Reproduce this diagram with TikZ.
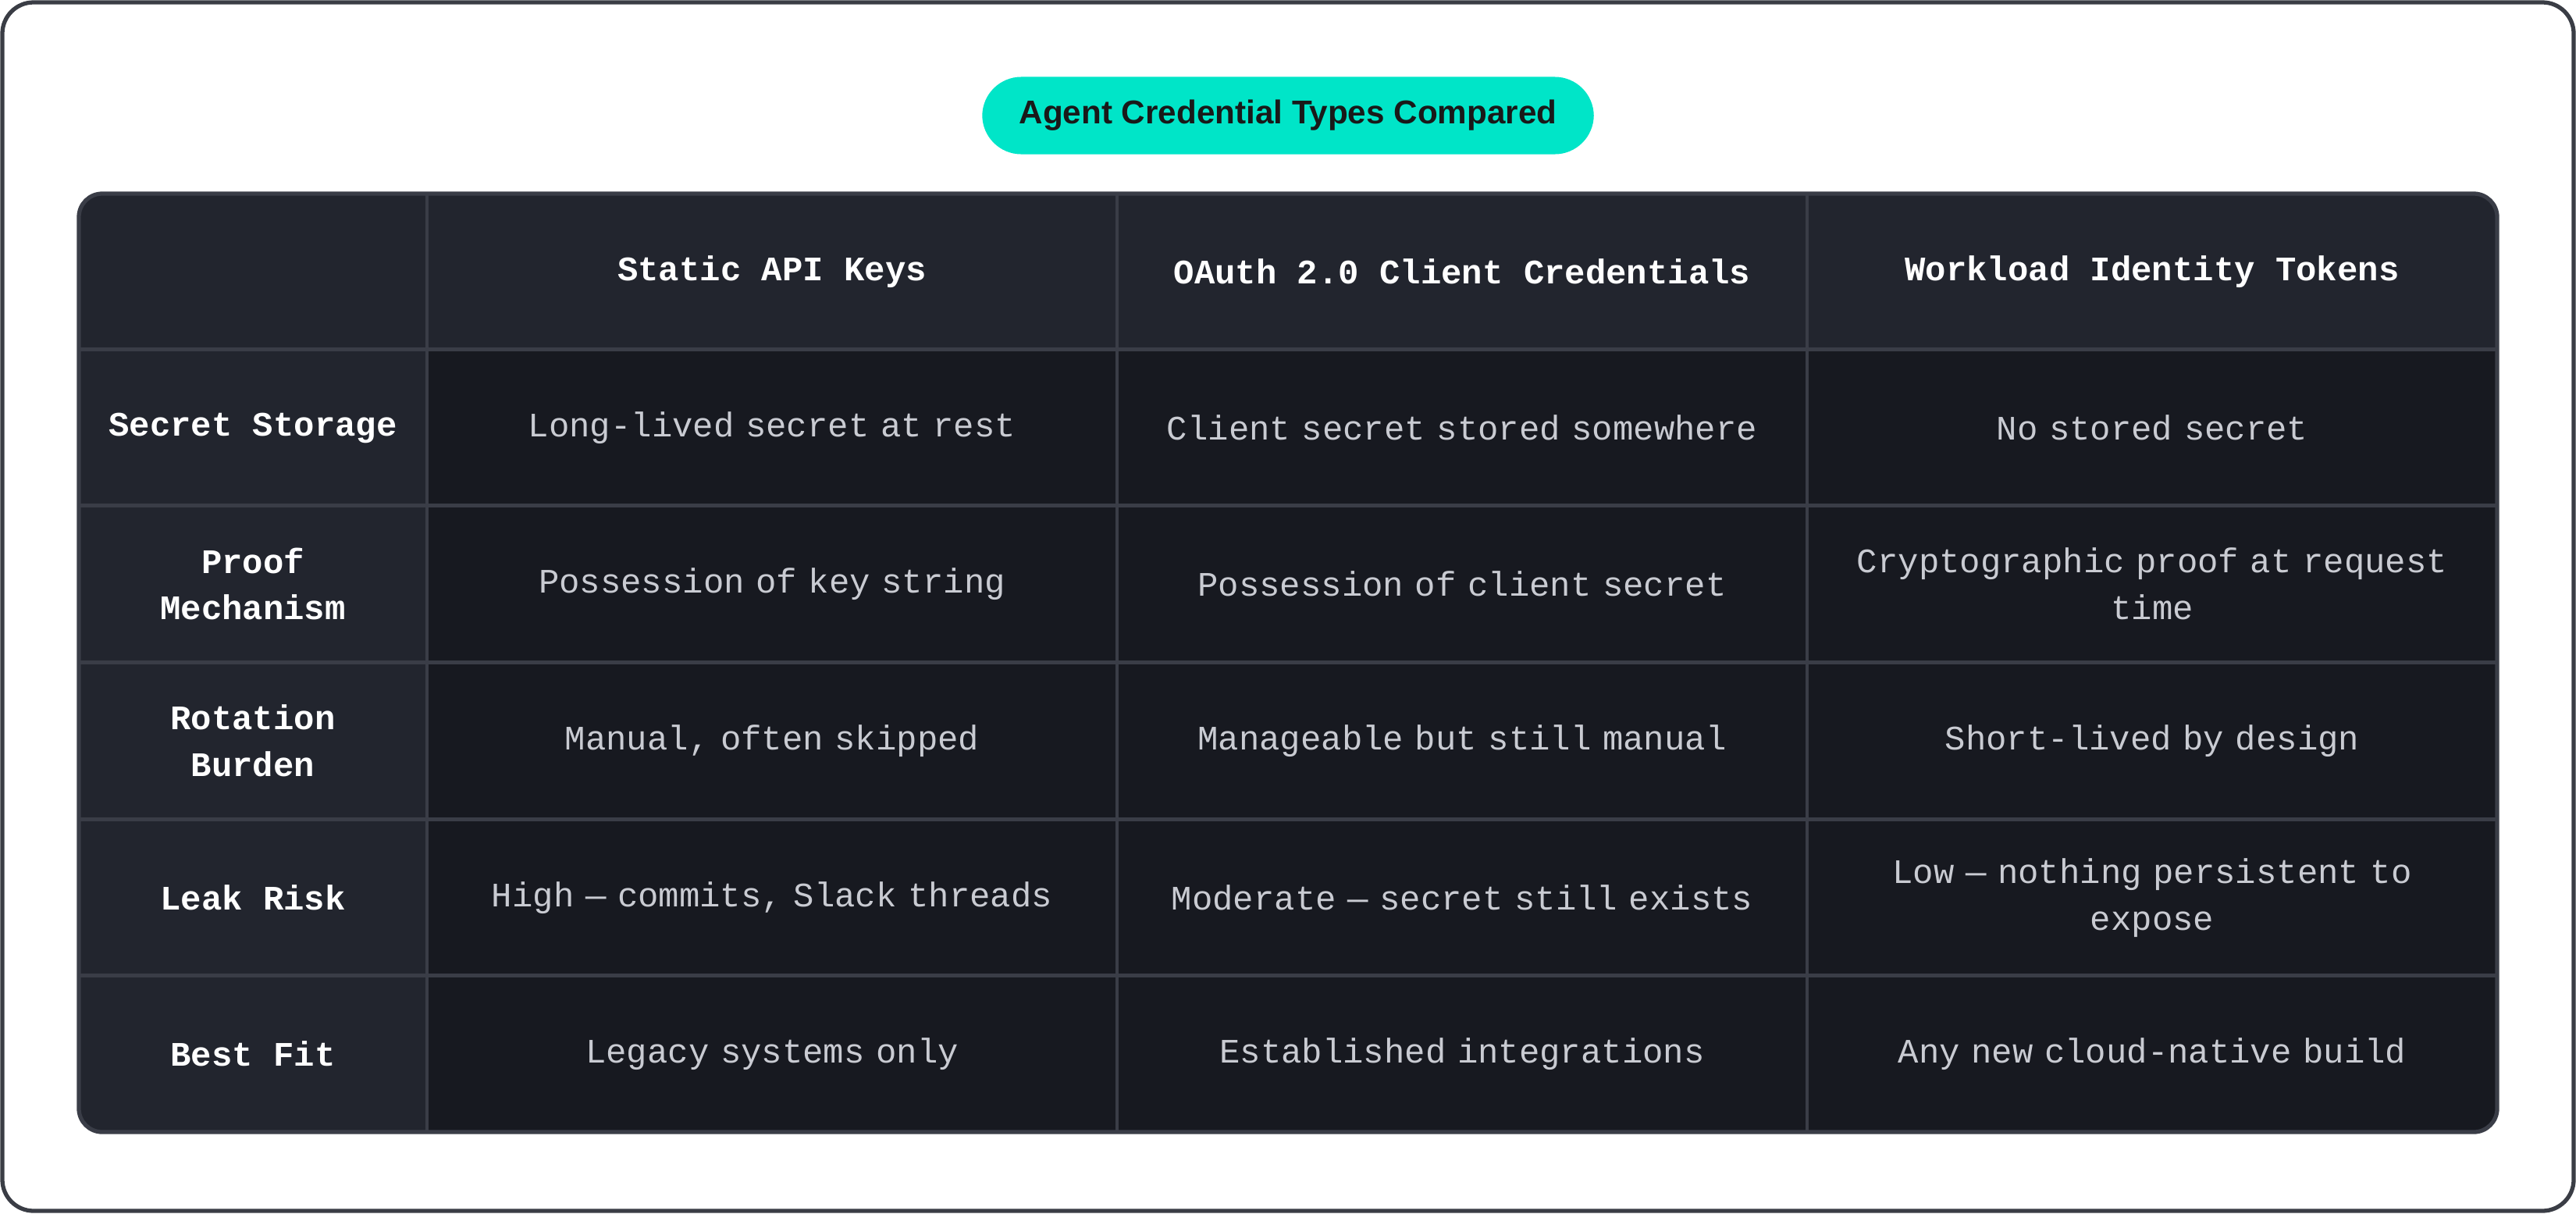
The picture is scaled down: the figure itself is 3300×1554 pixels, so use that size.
\documentclass[tikz,border=0pt]{standalone}
\usepackage{fontspec}
\setmainfont{Liberation Sans}
\setmonofont{Liberation Mono}
\usetikzlibrary{positioning}
\definecolor{headbg}{HTML}{22252E}
\definecolor{cellbg}{HTML}{171920}
\definecolor{gridc}{HTML}{3A3D47}
\definecolor{bodytxt}{HTML}{C9CBD2}
\definecolor{pill}{HTML}{00E5C8}
\definecolor{framec}{HTML}{3A3D45}
\tikzset{
  head/.style={fill=headbg, draw=gridc, line width=1.2pt, text=white, font=\ttfamily\bfseries\fontsize{12.5}{17}\selectfont, align=center, inner sep=0pt},
  cell/.style={fill=cellbg, draw=gridc, line width=1.2pt, text=bodytxt, font=\ttfamily\fontsize{12.5}{17}\selectfont, align=center, inner sep=0pt, text width=8.2cm},
}
\begin{document}
\begin{tikzpicture}[x=0.01cm,y=-0.01cm]
    % page and outer frame
    \useasboundingbox (0,0) rectangle (3300,1554);
    \draw[framec, line width=1.5pt, rounded corners=0.4cm] (3,3) rectangle (3297,1551);

    % title pill
    \node[fill=pill, rounded corners=0.5cm, minimum width=7.83cm, minimum height=0.99cm, font=\bfseries\fontsize{12}{14}\selectfont, text=black!90] (title) at (1650,148) {Agent Credential Types Compared};

    % table clipped to a rounded box
    \begin{scope}
      \clip[rounded corners=0.3cm] (101,248) rectangle (3199,1450);
      % header row
      \node[head, minimum width=4.46cm, minimum height=2cm] (h0) at (324,348) {};
      \node[head, minimum width=8.84cm, minimum height=2cm] (h1) at (989,348) {Static API Keys};
      \node[head, minimum width=8.84cm, minimum height=2cm] (h2) at (1873,348) {OAuth 2.0 Client Credentials};
      \node[head, minimum width=8.84cm, minimum height=2cm] (h3) at (2757,348) {Workload Identity Tokens};
      % body rows
      \foreach \y/\lab/\a/\b/\c [count=\i] in {
          548/Secret Storage/Long-lived secret at rest/Client secret stored somewhere/No stored secret,
          748/Proof\\Mechanism/Possession of key string/Possession of client secret/Cryptographic proof at request\\time,
          949/Rotation\\Burden/{Manual, often skipped}/Manageable but still manual/Short-lived by design,
          1150/Leak Risk/{High — commits, Slack threads}/Moderate — secret still exists/Low — nothing persistent to\\expose,
          1350/Best Fit/Legacy systems only/Established integrations/Any new cloud-native build}{
        \node[head, minimum width=4.46cm, minimum height=2.01cm] (r\i c0) at (324,\y) {\lab};
        \node[cell, minimum width=8.84cm, minimum height=2.01cm] (r\i c1) at (989,\y) {\a};
        \node[cell, minimum width=8.84cm, minimum height=2.01cm] (r\i c2) at (1873,\y) {\b};
        \node[cell, minimum width=8.84cm, minimum height=2.01cm] (r\i c3) at (2757,\y) {\c};
      }
    \end{scope}
    \draw[gridc, line width=1.5pt, rounded corners=0.3cm] (101,248) rectangle (3199,1450);
\end{tikzpicture}
\end{document}
